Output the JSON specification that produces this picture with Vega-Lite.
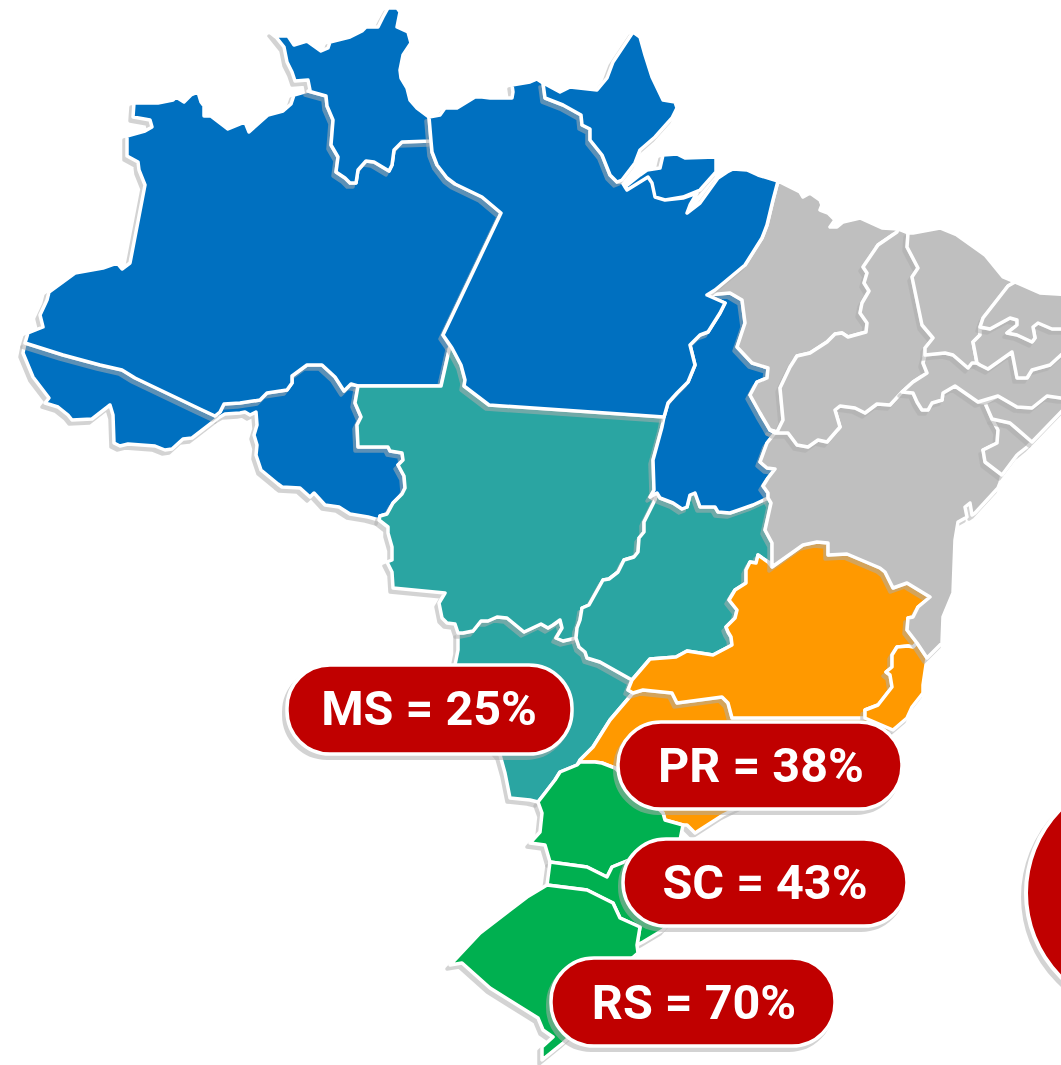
{"$schema":"https://vega.github.io/schema/vega-lite/v6.json","width":1061,"height":1065,"autosize":"none","padding":0,"background":"white","config":{"view":{"stroke":null}},
"datasets":{"states":[
{"type":"Feature","state":"AC","tier":1,"region":"Norte","geometry":{"type":"Polygon","coordinates":[[[25,343],[63,355],[100,365],[122,370],[135,378],[200,409],[215,416],[218,418],[192,438],[183,439],[172,449],[165,450],[155,446],[128,444],[120,446],[114,443],[113,415],[110,405],[92,419],[72,420],[68,415],[58,407],[45,403],[49,398],[33,377],[23,353],[25,343]]]}},
{"type":"Feature","state":"RO","tier":1,"region":"Norte","geometry":{"type":"Polygon","coordinates":[[[218,418],[215,416],[220,412],[224,404],[240,403],[260,400],[267,393],[287,390],[292,383],[292,376],[307,365],[322,365],[335,377],[344,391],[351,384],[358,386],[355,403],[361,417],[357,425],[358,447],[388,447],[390,451],[402,453],[403,460],[398,465],[404,476],[405,488],[402,494],[393,503],[387,514],[380,516],[379,520],[368,517],[350,514],[339,507],[325,505],[314,493],[310,497],[300,488],[282,487],[278,484],[261,470],[256,455],[257,445],[254,435],[257,425],[256,412],[250,415],[245,412],[240,413],[225,414],[218,418]]]}},
{"type":"Feature","state":"MS","tier":1,"region":"Centro-Oeste","geometry":{"type":"Polygon","coordinates":[[[458,633],[463,633],[473,631],[481,621],[488,621],[497,617],[507,618],[524,632],[541,624],[548,628],[553,625],[560,620],[562,628],[556,638],[563,641],[576,638],[579,647],[585,652],[587,658],[600,662],[632,680],[628,690],[633,693],[610,720],[593,747],[580,760],[577,765],[560,772],[555,780],[545,793],[538,802],[530,800],[510,798],[505,773],[500,755],[470,720],[455,665],[458,650],[458,633]]]}},
{"type":"Feature","state":"SP","tier":1,"region":"Sudeste","geometry":{"type":"Polygon","coordinates":[[[633,693],[643,690],[672,693],[677,703],[722,697],[728,703],[732,718],[865,718],[893,730],[723,815],[695,833],[687,825],[683,825],[665,820],[663,813],[615,768],[602,763],[595,762],[580,762],[580,760],[593,747],[610,720],[633,693]]]}},
{"type":"Feature","state":"PR","tier":1,"region":"Sul","geometry":{"type":"Polygon","coordinates":[[[577,765],[580,762],[595,762],[602,763],[615,768],[663,813],[665,820],[683,825],[680,840],[622,863],[612,867],[607,877],[587,867],[550,862],[545,845],[530,843],[540,832],[542,813],[538,802],[545,793],[555,780],[560,772],[577,765]]]}},
{"type":"Feature","state":"SC","tier":1,"region":"Sul","geometry":{"type":"Polygon","coordinates":[[[550,862],[587,867],[607,877],[612,867],[622,863],[680,840],[690,900],[663,930],[643,942],[637,945],[640,927],[620,918],[613,903],[587,890],[547,885],[550,862]]]}},
{"type":"Feature","state":"RS","tier":1,"region":"Sul","geometry":{"type":"Polygon","coordinates":[[[547,885],[587,890],[613,903],[620,918],[640,927],[637,945],[638,953],[630,960],[600,1010],[563,1043],[542,1060],[542,1047],[553,1037],[543,1030],[538,1018],[490,988],[462,963],[450,965],[480,933],[527,897],[547,885]]]}},
{"type":"Feature","state":"AM","tier":2,"region":"Norte","geometry":{"type":"Polygon","coordinates":[[[134,103],[158,103],[173,100],[176,97],[184,102],[191,95],[198,92],[201,102],[204,106],[204,116],[211,116],[228,129],[245,122],[249,132],[268,115],[283,111],[291,104],[294,95],[308,91],[326,96],[327,106],[333,120],[331,145],[338,157],[336,172],[345,178],[350,183],[356,183],[358,170],[366,161],[374,162],[389,171],[392,165],[394,150],[402,142],[431,141],[432,152],[437,165],[447,178],[455,184],[482,197],[501,213],[443,335],[450,346],[441,386],[358,386],[351,384],[344,391],[335,377],[322,365],[307,365],[292,376],[292,383],[287,390],[267,393],[260,400],[240,403],[224,404],[220,412],[215,416],[200,409],[135,378],[122,370],[100,365],[63,355],[25,343],[28,333],[43,327],[40,315],[47,300],[49,292],[75,273],[103,268],[117,263],[122,269],[130,263],[145,185],[139,170],[138,162],[127,156],[127,136],[145,131],[152,127],[150,120],[133,117],[134,103]]]}},
{"type":"Feature","state":"MT","tier":3,"region":"Centro-Oeste","geometry":{"type":"Polygon","coordinates":[[[358,386],[441,386],[450,346],[452,348],[461,365],[465,380],[464,386],[489,405],[664,417],[662,427],[653,460],[654,490],[650,497],[655,500],[650,510],[644,522],[644,532],[639,538],[638,552],[634,557],[624,560],[618,572],[609,579],[603,580],[589,605],[582,608],[580,620],[577,628],[576,638],[563,641],[556,638],[562,628],[560,620],[553,625],[548,628],[541,624],[524,632],[507,618],[497,617],[488,621],[481,621],[473,631],[463,633],[458,633],[455,624],[447,623],[442,618],[439,603],[445,593],[393,588],[392,572],[387,562],[392,560],[392,547],[388,533],[388,527],[379,520],[380,516],[387,514],[393,503],[402,494],[405,488],[404,476],[398,465],[403,460],[402,453],[390,451],[388,447],[358,447],[357,425],[361,417],[355,403],[358,386]]]}},
{"type":"Feature","state":"GO","tier":4,"region":"Centro-Oeste","geometry":{"type":"Polygon","coordinates":[[[655,500],[650,510],[644,522],[644,532],[639,538],[638,552],[634,557],[624,560],[618,572],[609,579],[603,580],[589,605],[582,608],[580,620],[577,628],[576,638],[579,647],[585,652],[587,658],[600,662],[632,680],[650,659],[676,657],[687,651],[713,655],[732,645],[731,637],[728,632],[726,627],[735,618],[737,610],[729,600],[735,590],[746,583],[746,570],[750,562],[756,563],[758,555],[768,562],[772,563],[772,543],[765,530],[771,503],[768,498],[753,505],[730,513],[718,512],[715,507],[700,507],[695,493],[690,495],[687,507],[682,509],[673,503],[660,498],[657,493],[655,500]]]}},
{"type":"Feature","state":"RR","tier":4,"region":"Norte","geometry":{"type":"Polygon","coordinates":[[[272,32],[277,36],[288,36],[294,45],[307,41],[321,51],[328,48],[330,42],[350,37],[362,31],[366,27],[378,27],[383,17],[388,8],[397,8],[400,12],[397,27],[408,32],[411,43],[403,55],[400,70],[401,78],[407,88],[410,100],[417,108],[429,117],[431,141],[402,142],[394,150],[392,165],[389,171],[374,162],[366,161],[358,170],[356,183],[350,183],[345,178],[336,172],[338,157],[331,145],[333,120],[327,106],[326,96],[308,91],[310,90],[308,80],[295,81],[292,72],[287,62],[284,47],[272,32]]]}},
{"type":"Feature","state":"MG","tier":5,"region":"Sudeste","geometry":{"type":"Polygon","coordinates":[[[632,680],[650,659],[676,657],[687,651],[713,655],[732,645],[731,637],[728,632],[726,627],[735,618],[737,610],[729,600],[735,590],[746,583],[746,570],[750,562],[756,563],[758,555],[768,562],[772,567],[803,545],[817,542],[828,543],[828,555],[847,554],[880,568],[885,572],[893,588],[907,583],[930,597],[918,607],[913,617],[908,618],[907,630],[917,643],[913,647],[908,646],[897,647],[892,655],[892,667],[886,672],[890,675],[892,687],[878,705],[865,710],[865,718],[732,718],[728,703],[722,697],[677,703],[672,693],[643,690],[633,693],[628,690],[632,680]]]}},
{"type":"Feature","state":"TO","tier":6,"region":"Norte","geometry":{"type":"Polygon","coordinates":[[[707,295],[730,293],[742,300],[745,323],[737,347],[752,363],[768,368],[767,378],[757,382],[750,395],[760,413],[770,430],[775,433],[767,443],[760,462],[767,468],[775,469],[768,478],[763,486],[768,493],[768,498],[753,505],[730,513],[718,512],[715,507],[700,507],[695,493],[690,495],[687,507],[682,509],[673,503],[660,498],[657,493],[650,497],[654,490],[653,460],[662,427],[664,417],[668,403],[677,393],[688,382],[695,365],[690,345],[700,335],[708,332],[720,313],[725,303],[707,295]]]}},
{"type":"Feature","state":"ES","tier":6,"region":"Sudeste","geometry":{"type":"Polygon","coordinates":[[[865,718],[865,710],[878,705],[892,687],[890,675],[886,672],[892,667],[892,655],[897,647],[908,646],[913,647],[917,643],[927,658],[923,685],[923,693],[912,707],[907,718],[893,730],[865,718]]]}},
{"type":"Feature","state":"BA","tier":7,"region":"Nordeste","geometry":{"type":"Polygon","coordinates":[[[775,433],[788,433],[797,445],[808,447],[818,440],[827,442],[840,427],[835,410],[840,406],[855,408],[865,413],[877,404],[890,405],[902,392],[913,393],[917,402],[922,410],[928,410],[932,403],[942,400],[943,393],[955,386],[978,402],[985,403],[992,419],[998,430],[997,443],[983,450],[985,462],[1002,475],[1000,483],[998,488],[975,513],[972,515],[970,503],[965,507],[967,517],[958,522],[955,540],[953,593],[943,617],[942,643],[927,658],[917,643],[907,630],[908,618],[913,617],[918,607],[930,597],[907,583],[893,588],[885,572],[880,568],[847,554],[828,555],[828,543],[817,542],[803,545],[772,567],[772,563],[772,543],[765,530],[771,503],[768,498],[768,493],[763,486],[768,478],[775,469],[767,468],[760,462],[767,443],[775,433]]]}},
{"type":"Feature","state":"MA","tier":7,"region":"Nordeste","geometry":{"type":"Polygon","coordinates":[[[778,181],[782,183],[800,192],[803,197],[810,193],[820,200],[822,205],[820,210],[828,213],[835,220],[830,227],[837,227],[843,222],[860,218],[882,228],[898,229],[897,232],[878,245],[863,267],[867,273],[864,283],[869,291],[862,303],[860,313],[867,323],[866,332],[848,337],[842,333],[835,334],[827,342],[810,353],[797,356],[790,367],[780,388],[783,420],[777,432],[770,430],[760,413],[750,395],[757,382],[767,378],[768,368],[752,363],[737,347],[745,323],[742,300],[730,293],[707,295],[715,290],[745,265],[762,238],[767,225],[773,200],[778,181]]]}},
{"type":"Feature","state":"PA","tier":8,"region":"Norte","geometry":{"type":"MultiPolygon","coordinates":[[[[429,117],[440,115],[445,108],[457,108],[475,97],[482,97],[490,98],[512,98],[513,92],[512,85],[518,84],[530,82],[537,79],[543,83],[545,98],[563,105],[581,115],[582,125],[590,129],[590,140],[602,155],[610,175],[617,182],[622,182],[627,190],[648,177],[652,183],[655,197],[665,200],[683,198],[697,193],[690,205],[687,213],[700,203],[718,178],[727,172],[733,169],[747,170],[758,175],[778,181],[773,200],[767,225],[762,238],[745,265],[715,290],[707,295],[725,303],[720,313],[708,332],[700,335],[690,345],[695,365],[688,382],[677,393],[668,403],[664,417],[489,405],[464,386],[465,380],[461,365],[452,348],[443,335],[501,213],[482,197],[455,184],[447,178],[437,165],[432,152],[431,141],[429,117]]],[[[625,187],[640,175],[647,170],[660,168],[663,155],[677,154],[685,158],[716,157],[716,172],[700,190],[683,197],[665,200],[655,197],[652,183],[648,177],[627,190],[625,187]]]]}},
{"type":"Feature","state":"PI","tier":8,"region":"Nordeste","geometry":{"type":"Polygon","coordinates":[[[898,229],[908,233],[907,247],[918,268],[912,277],[922,325],[933,338],[925,348],[923,363],[927,373],[913,382],[902,392],[890,405],[877,404],[865,413],[855,408],[840,406],[835,410],[840,427],[827,442],[818,440],[808,447],[797,445],[788,433],[775,433],[770,430],[777,432],[783,420],[780,388],[790,367],[797,356],[810,353],[827,342],[835,334],[842,333],[848,337],[866,332],[867,323],[860,313],[862,303],[869,291],[864,283],[867,273],[863,267],[878,245],[897,232],[898,229]]]}},
{"type":"Feature","state":"SE","tier":8,"region":"Nordeste","geometry":{"type":"Polygon","coordinates":[[[992,419],[1010,423],[1032,442],[1027,447],[1017,455],[1002,475],[985,462],[983,450],[997,443],[998,430],[992,419]]]}},
{"type":"Feature","state":"AP","tier":9,"region":"Norte","geometry":{"type":"Polygon","coordinates":[[[543,83],[547,85],[560,92],[570,87],[597,90],[607,78],[613,62],[633,32],[640,37],[645,55],[652,77],[663,100],[675,102],[677,108],[672,118],[655,137],[640,150],[635,163],[622,180],[617,182],[610,175],[602,155],[590,140],[590,129],[582,125],[581,115],[563,105],[545,98],[543,83]]]}},
{"type":"Feature","state":"AL","tier":9,"region":"Nordeste","geometry":{"type":"Polygon","coordinates":[[[985,403],[998,396],[1017,407],[1032,408],[1047,396],[1061,398],[1075,398],[1061,412],[1032,442],[1010,423],[992,419],[985,403]]]}},
{"type":"Feature","state":"PE","tier":10,"region":"Nordeste","geometry":{"type":"Polygon","coordinates":[[[925,355],[945,353],[953,355],[968,368],[972,363],[977,363],[980,365],[988,369],[1012,352],[1017,378],[1027,378],[1032,370],[1050,365],[1061,355],[1075,345],[1075,398],[1061,398],[1047,396],[1032,408],[1017,407],[998,396],[978,402],[955,386],[943,393],[942,400],[932,403],[928,410],[922,410],[917,402],[913,393],[902,392],[913,382],[927,373],[923,363],[925,355]]]}},
{"type":"Feature","state":"CE","tier":11,"region":"Nordeste","geometry":{"type":"Polygon","coordinates":[[[908,233],[913,233],[940,228],[957,235],[985,255],[1003,277],[1015,282],[1008,286],[983,318],[980,327],[980,335],[973,342],[977,363],[972,363],[968,368],[953,355],[945,353],[925,355],[925,348],[933,338],[922,325],[912,277],[918,268],[907,247],[908,233]]]}},
{"type":"Feature","state":"PB","tier":11,"region":"Nordeste","geometry":{"type":"Polygon","coordinates":[[[980,327],[990,329],[1010,318],[1017,320],[1017,325],[1007,333],[1017,335],[1032,342],[1035,338],[1033,327],[1038,323],[1052,329],[1075,329],[1075,345],[1061,355],[1050,365],[1032,370],[1027,378],[1017,378],[1012,352],[988,369],[980,365],[977,363],[973,342],[980,335],[980,327]]]}},
{"type":"Feature","state":"RN","tier":12,"region":"Nordeste","geometry":{"type":"Polygon","coordinates":[[[1015,282],[1040,293],[1075,295],[1075,329],[1052,329],[1038,323],[1033,327],[1035,338],[1032,342],[1017,335],[1007,333],[1017,325],[1017,320],[1010,318],[990,329],[980,327],[983,318],[1008,286],[1015,282]]]}}
],
"pills":[{"label":"MS = 25%","left":287,"right":572,"top":665,"bottom":754,"cx":429,"cy":710},{"label":"PR = 38%","left":618,"right":902,"top":722,"bottom":809,"cx":761,"cy":767},{"label":"SC = 43%","left":623,"right":907,"top":839,"bottom":926,"cx":765,"cy":884},{"label":"RS = 70%","left":551,"right":835,"top":958,"bottom":1046,"cx":694,"cy":1004}],
"disc":[{"px":1145,"py":893}]},
"data":{"name":"states"},
"layer":[
{"transform":[{"filter":"datum.tier==1"}],"projection":{"type":"identity","scale":1,"translate":[-3,4],"reflectX":false},"mark":{"type":"geoshape","fill":"#aeaeae","stroke":"#aeaeae","strokeWidth":3.5,"opacity":0.53,"strokeJoin":"round"}},
{"transform":[{"filter":"datum.tier==1"}],"projection":{"type":"identity","scale":1,"translate":[0,0]},"mark":{"type":"geoshape","stroke":"white","strokeWidth":3.5,"strokeJoin":"round"},"encoding":{"color":{"field":"region","type":"nominal","legend":null,"scale":{"domain":["Norte","Centro-Oeste","Nordeste","Sudeste","Sul"],"range":["#0070C0","#2AA5A2","#BFBFBF","#FF9900","#00B050"]}}}},
{"transform":[{"filter":"datum.tier==2"}],"projection":{"type":"identity","scale":1,"translate":[-3,4],"reflectX":false},"mark":{"type":"geoshape","fill":"#aeaeae","stroke":"#aeaeae","strokeWidth":3.5,"opacity":0.53,"strokeJoin":"round"}},
{"transform":[{"filter":"datum.tier==2"}],"projection":{"type":"identity","scale":1,"translate":[0,0]},"mark":{"type":"geoshape","stroke":"white","strokeWidth":3.5,"strokeJoin":"round"},"encoding":{"color":{"field":"region","type":"nominal","legend":null,"scale":{"domain":["Norte","Centro-Oeste","Nordeste","Sudeste","Sul"],"range":["#0070C0","#2AA5A2","#BFBFBF","#FF9900","#00B050"]}}}},
{"transform":[{"filter":"datum.tier==3"}],"projection":{"type":"identity","scale":1,"translate":[-3,4],"reflectX":false},"mark":{"type":"geoshape","fill":"#aeaeae","stroke":"#aeaeae","strokeWidth":3.5,"opacity":0.53,"strokeJoin":"round"}},
{"transform":[{"filter":"datum.tier==3"}],"projection":{"type":"identity","scale":1,"translate":[0,0]},"mark":{"type":"geoshape","stroke":"white","strokeWidth":3.5,"strokeJoin":"round"},"encoding":{"color":{"field":"region","type":"nominal","legend":null,"scale":{"domain":["Norte","Centro-Oeste","Nordeste","Sudeste","Sul"],"range":["#0070C0","#2AA5A2","#BFBFBF","#FF9900","#00B050"]}}}},
{"transform":[{"filter":"datum.tier==4"}],"projection":{"type":"identity","scale":1,"translate":[-3,4],"reflectX":false},"mark":{"type":"geoshape","fill":"#aeaeae","stroke":"#aeaeae","strokeWidth":3.5,"opacity":0.53,"strokeJoin":"round"}},
{"transform":[{"filter":"datum.tier==4"}],"projection":{"type":"identity","scale":1,"translate":[0,0]},"mark":{"type":"geoshape","stroke":"white","strokeWidth":3.5,"strokeJoin":"round"},"encoding":{"color":{"field":"region","type":"nominal","legend":null,"scale":{"domain":["Norte","Centro-Oeste","Nordeste","Sudeste","Sul"],"range":["#0070C0","#2AA5A2","#BFBFBF","#FF9900","#00B050"]}}}},
{"transform":[{"filter":"datum.tier==5"}],"projection":{"type":"identity","scale":1,"translate":[-3,4],"reflectX":false},"mark":{"type":"geoshape","fill":"#aeaeae","stroke":"#aeaeae","strokeWidth":3.5,"opacity":0.53,"strokeJoin":"round"}},
{"transform":[{"filter":"datum.tier==5"}],"projection":{"type":"identity","scale":1,"translate":[0,0]},"mark":{"type":"geoshape","stroke":"white","strokeWidth":3.5,"strokeJoin":"round"},"encoding":{"color":{"field":"region","type":"nominal","legend":null,"scale":{"domain":["Norte","Centro-Oeste","Nordeste","Sudeste","Sul"],"range":["#0070C0","#2AA5A2","#BFBFBF","#FF9900","#00B050"]}}}},
{"transform":[{"filter":"datum.tier==6"}],"projection":{"type":"identity","scale":1,"translate":[-3,4],"reflectX":false},"mark":{"type":"geoshape","fill":"#aeaeae","stroke":"#aeaeae","strokeWidth":3.5,"opacity":0.53,"strokeJoin":"round"}},
{"transform":[{"filter":"datum.tier==6"}],"projection":{"type":"identity","scale":1,"translate":[0,0]},"mark":{"type":"geoshape","stroke":"white","strokeWidth":3.5,"strokeJoin":"round"},"encoding":{"color":{"field":"region","type":"nominal","legend":null,"scale":{"domain":["Norte","Centro-Oeste","Nordeste","Sudeste","Sul"],"range":["#0070C0","#2AA5A2","#BFBFBF","#FF9900","#00B050"]}}}},
{"transform":[{"filter":"datum.tier==7"}],"projection":{"type":"identity","scale":1,"translate":[-3,4],"reflectX":false},"mark":{"type":"geoshape","fill":"#aeaeae","stroke":"#aeaeae","strokeWidth":3.5,"opacity":0.53,"strokeJoin":"round"}},
{"transform":[{"filter":"datum.tier==7"}],"projection":{"type":"identity","scale":1,"translate":[0,0]},"mark":{"type":"geoshape","stroke":"white","strokeWidth":3.5,"strokeJoin":"round"},"encoding":{"color":{"field":"region","type":"nominal","legend":null,"scale":{"domain":["Norte","Centro-Oeste","Nordeste","Sudeste","Sul"],"range":["#0070C0","#2AA5A2","#BFBFBF","#FF9900","#00B050"]}}}},
{"transform":[{"filter":"datum.tier==8"}],"projection":{"type":"identity","scale":1,"translate":[-3,4],"reflectX":false},"mark":{"type":"geoshape","fill":"#aeaeae","stroke":"#aeaeae","strokeWidth":3.5,"opacity":0.53,"strokeJoin":"round"}},
{"transform":[{"filter":"datum.tier==8"}],"projection":{"type":"identity","scale":1,"translate":[0,0]},"mark":{"type":"geoshape","stroke":"white","strokeWidth":3.5,"strokeJoin":"round"},"encoding":{"color":{"field":"region","type":"nominal","legend":null,"scale":{"domain":["Norte","Centro-Oeste","Nordeste","Sudeste","Sul"],"range":["#0070C0","#2AA5A2","#BFBFBF","#FF9900","#00B050"]}}}},
{"transform":[{"filter":"datum.tier==9"}],"projection":{"type":"identity","scale":1,"translate":[-3,4],"reflectX":false},"mark":{"type":"geoshape","fill":"#aeaeae","stroke":"#aeaeae","strokeWidth":3.5,"opacity":0.53,"strokeJoin":"round"}},
{"transform":[{"filter":"datum.tier==9"}],"projection":{"type":"identity","scale":1,"translate":[0,0]},"mark":{"type":"geoshape","stroke":"white","strokeWidth":3.5,"strokeJoin":"round"},"encoding":{"color":{"field":"region","type":"nominal","legend":null,"scale":{"domain":["Norte","Centro-Oeste","Nordeste","Sudeste","Sul"],"range":["#0070C0","#2AA5A2","#BFBFBF","#FF9900","#00B050"]}}}},
{"transform":[{"filter":"datum.tier==10"}],"projection":{"type":"identity","scale":1,"translate":[-3,4],"reflectX":false},"mark":{"type":"geoshape","fill":"#aeaeae","stroke":"#aeaeae","strokeWidth":3.5,"opacity":0.53,"strokeJoin":"round"}},
{"transform":[{"filter":"datum.tier==10"}],"projection":{"type":"identity","scale":1,"translate":[0,0]},"mark":{"type":"geoshape","stroke":"white","strokeWidth":3.5,"strokeJoin":"round"},"encoding":{"color":{"field":"region","type":"nominal","legend":null,"scale":{"domain":["Norte","Centro-Oeste","Nordeste","Sudeste","Sul"],"range":["#0070C0","#2AA5A2","#BFBFBF","#FF9900","#00B050"]}}}},
{"transform":[{"filter":"datum.tier==11"}],"projection":{"type":"identity","scale":1,"translate":[-3,4],"reflectX":false},"mark":{"type":"geoshape","fill":"#aeaeae","stroke":"#aeaeae","strokeWidth":3.5,"opacity":0.53,"strokeJoin":"round"}},
{"transform":[{"filter":"datum.tier==11"}],"projection":{"type":"identity","scale":1,"translate":[0,0]},"mark":{"type":"geoshape","stroke":"white","strokeWidth":3.5,"strokeJoin":"round"},"encoding":{"color":{"field":"region","type":"nominal","legend":null,"scale":{"domain":["Norte","Centro-Oeste","Nordeste","Sudeste","Sul"],"range":["#0070C0","#2AA5A2","#BFBFBF","#FF9900","#00B050"]}}}},
{"transform":[{"filter":"datum.tier==12"}],"projection":{"type":"identity","scale":1,"translate":[-3,4],"reflectX":false},"mark":{"type":"geoshape","fill":"#aeaeae","stroke":"#aeaeae","strokeWidth":3.5,"opacity":0.53,"strokeJoin":"round"}},
{"transform":[{"filter":"datum.tier==12"}],"projection":{"type":"identity","scale":1,"translate":[0,0]},"mark":{"type":"geoshape","stroke":"white","strokeWidth":3.5,"strokeJoin":"round"},"encoding":{"color":{"field":"region","type":"nominal","legend":null,"scale":{"domain":["Norte","Centro-Oeste","Nordeste","Sudeste","Sul"],"range":["#0070C0","#2AA5A2","#BFBFBF","#FF9900","#00B050"]}}}},
{"data":{"name":"disc"},"mark":{"type":"point","filled":true,"shape":"circle","size":56644,"fill":"#aeaeae","stroke":"#aeaeae","strokeWidth":4,"opacity":0.53,"xOffset":-3,"yOffset":4},"encoding":{"x":{"field":"px","type":"quantitative","axis":null,"scale":{"domain":[0,1061],"nice":false,"zero":false}},"y":{"field":"py","type":"quantitative","axis":null,"scale":{"domain":[1065,0],"nice":false,"zero":false}}}},
{"data":{"name":"disc"},"mark":{"type":"point","filled":true,"shape":"circle","size":56644,"fill":"#C00000","stroke":"white","strokeWidth":4,"opacity":1},"encoding":{"x":{"field":"px","type":"quantitative","axis":null},"y":{"field":"py","type":"quantitative","axis":null}}},
{"data":{"name":"pills"},"mark":{"type":"rect","fill":"#aeaeae","stroke":"#aeaeae","strokeWidth":4,"opacity":0.53,"cornerRadius":43,"xOffset":-3,"x2Offset":-3,"yOffset":4,"y2Offset":4},"encoding":{"x":{"field":"left","type":"quantitative","axis":null},"x2":{"field":"right"},"y":{"field":"top","type":"quantitative","axis":null},"y2":{"field":"bottom"}}},
{"data":{"name":"pills"},"mark":{"type":"rect","fill":"#C00000","stroke":"white","strokeWidth":3.5,"cornerRadius":43},"encoding":{"x":{"field":"left","type":"quantitative","axis":null},"x2":{"field":"right"},"y":{"field":"top","type":"quantitative","axis":null},"y2":{"field":"bottom"}}},
{"data":{"name":"pills"},"mark":{"type":"text","font":"Roboto","fontWeight":"bold","fontSize":48.5,"fill":"white","align":"center","baseline":"middle"},"encoding":{"x":{"field":"cx","type":"quantitative","axis":null},"y":{"field":"cy","type":"quantitative","axis":null},"text":{"field":"label"}}}
]}
